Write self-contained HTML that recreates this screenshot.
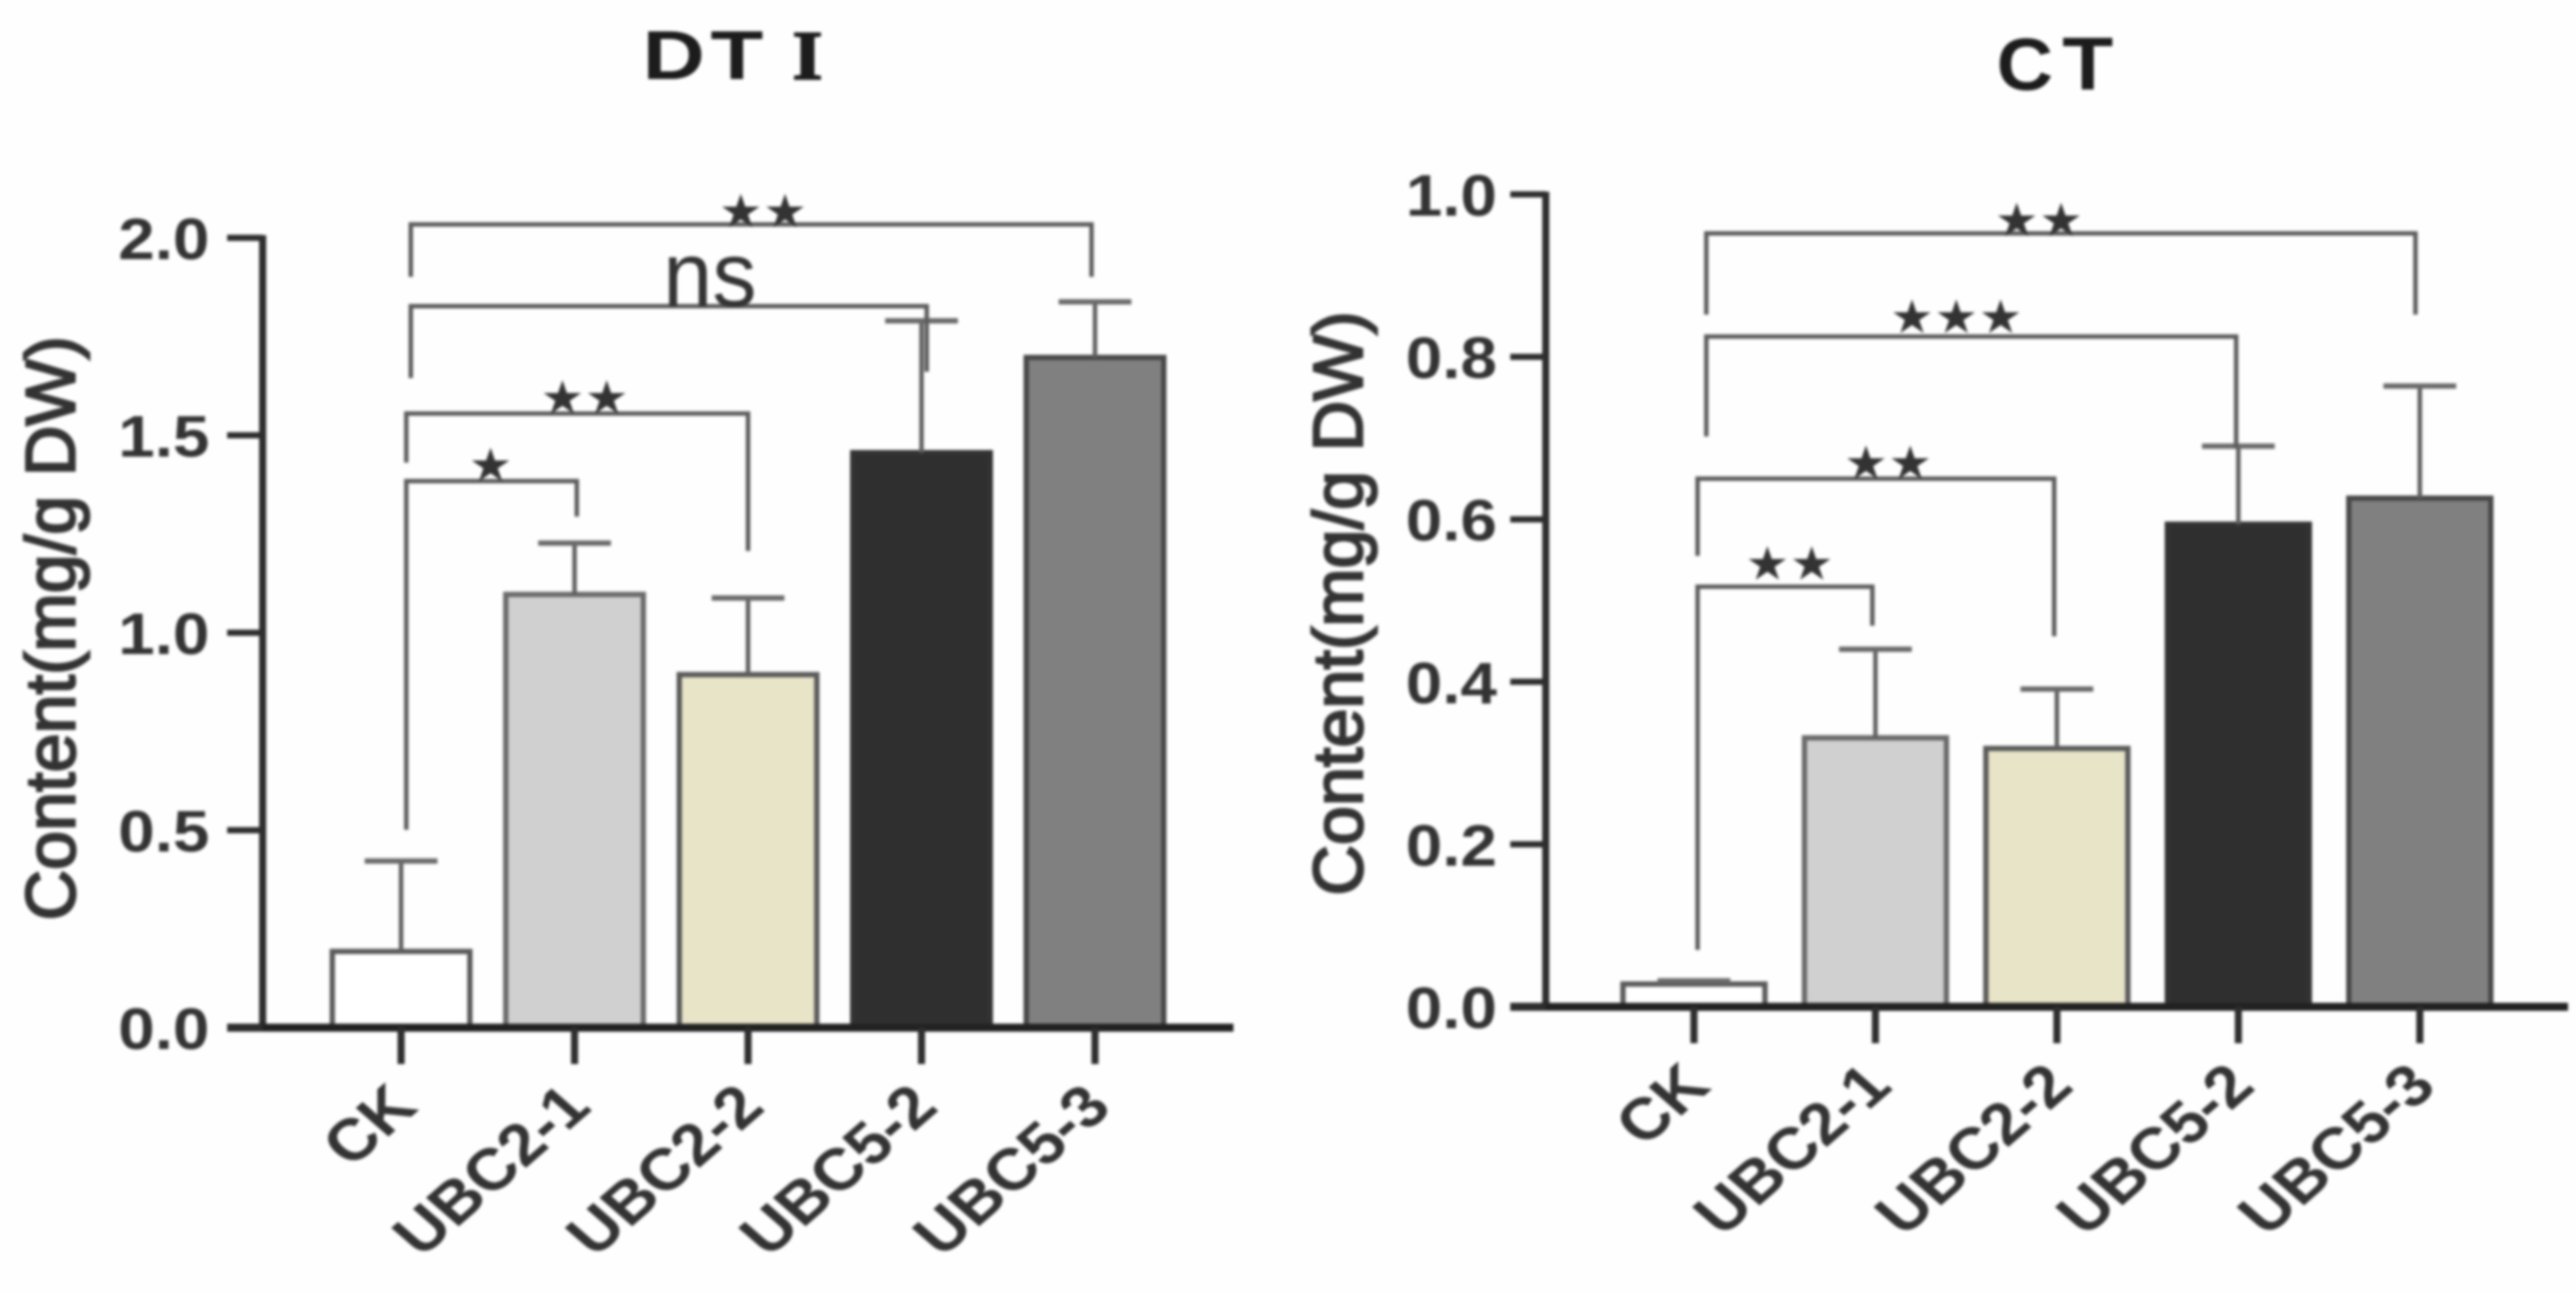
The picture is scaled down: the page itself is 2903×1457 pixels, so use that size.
<!DOCTYPE html>
<html lang="en">
<head>
<meta charset="utf-8">
<title>DT I and CT content bar charts</title>
<style>
  html,body{margin:0;padding:0;background:#fefefe;width:2903px;height:1457px;overflow:hidden}
  svg{display:block;filter:blur(1.5px)}
  text{font-family:"Liberation Sans",sans-serif;fill:#333}
</style>
</head>
<body>
<svg id="figure" xmlns="http://www.w3.org/2000/svg" width="2903" height="1457" viewBox="0 0 2903 1457">
  <rect x="0" y="0" width="2903" height="1457" fill="#fefefe"/>
  <text transform="translate(724,89) scale(1.25,1)" font-size="78" font-weight="700" style="fill:#1c1c1c;letter-spacing:5px">DT</text>
  <text transform="translate(893,89) scale(1.12,1)" font-size="78" font-weight="700" stroke="#1c1c1c" stroke-width="2" style="fill:#1c1c1c;font-family:'Liberation Serif',serif">I</text>
  <text transform="translate(2250,101) scale(1.05,1)" font-size="84" font-weight="700" style="fill:#1c1c1c">C</text>
  <text transform="translate(2324,101) scale(1.12,1)" font-size="84" font-weight="700" style="fill:#1c1c1c">T</text>
  <g id="chart-dti"></g>
  <g id="chart-ct"></g>
</svg>
<script>
const categories = ['CK', 'UBC2-1', 'UBC2-2', 'UBC5-2', 'UBC5-3'];
const barFills = ['#ffffff', '#d0d0d0', '#e8e4c8', '#2f2f2f', '#808080'];
const barStrokes = ['#5a5a5a', '#6a6a6a', '#5a5a5a', '#333333', '#484848'];

const dtiValues = [0.193, 1.097, 0.894, 1.456, 1.697];
const dtiErrorTops = [0.422, 1.227, 1.088, 1.790, 1.838];
const dtiTickValues = [0, 0.5, 1, 1.5, 2];
const dtiTickLabels = ['0.0', '0.5', '1.0', '1.5', '2.0'];
const dtiBracketFrom = [0.056, 0.056, 0.03, 0.03];
const dtiBracketTo = [3.98, 3.03, 2.0, 1.013];
const dtiBracketLevel = [2.034, 1.827, 1.555, 1.384];
const dtiBracketLeftEnd = [1.901, 1.645, 1.431, 0.501];
const dtiBracketRightEnd = [1.901, 1.661, 1.207, 1.294];
const dtiBracketLabels = ['★★', 'ns', '★★', '★'];
const dtiBracketLabelPos = [2.087, 1.78, 1.059, 0.517];

const ctValues = [0.028, 0.331, 0.318, 0.594, 0.626];
const ctErrorTops = [0.032, 0.440, 0.391, 0.690, 0.764];
const ctTickValues = [0, 0.2, 0.4, 0.6, 0.8, 1];
const ctTickLabels = ['0.0', '0.2', '0.4', '0.6', '0.8', '1.0'];
const ctBracketFrom = [0.068, 0.068, 0.02, 0.02];
const ctBracketTo = [3.976, 2.988, 1.985, 0.983];
const ctBracketLevel = [0.952, 0.825, 0.650, 0.517];
const ctBracketLeftEnd = [0.852, 0.702, 0.555, 0.070];
const ctBracketRightEnd = [0.852, 0.687, 0.456, 0.469];
const ctBracketLabels = ['★★', '★★★', '★★', '★★'];
const ctBracketLabelPos = [1.902, 1.447, 1.071, 0.528];

const NS = 'http://www.w3.org/2000/svg';

function make(parent, tag, props) {
  const el = document.createElementNS(NS, tag);
  for (const k in props) el.setAttribute(k, props[k]);
  parent.appendChild(el);
  return el;
}

function drawChart(g, prefix, layout, values, errorTops, tickValues, tickLabels, bFrom, bTo, bLevel, bLeftEnd, bRightEnd, bLabels, bLabelPos) {
  const yScale = v => layout.y0 - v * layout.unit;
  const xScale = i => layout.x0 + i * layout.step;

  // bars
  values.forEach((v, i) => {
    const bar = make(g, 'rect', {
      x: xScale(i) - layout.barW / 2, y: yScale(v),
      width: layout.barW, height: layout.y0 - yScale(v),
      fill: barFills[i], stroke: barStrokes[i], 'stroke-width': 6
    });
    
    
  });

  // error bars
  errorTops.forEach((e, i) => {
    const stem = make(g, 'line', {
      x1: xScale(i), x2: xScale(i), y1: yScale(values[i]), y2: yScale(e),
      stroke: '#5f5f5f', 'stroke-width': 5
    });
    
    
    const cap = make(g, 'line', {
      x1: xScale(i) - 41, x2: xScale(i) + 41, y1: yScale(e), y2: yScale(e),
      stroke: '#6a6a6a', 'stroke-width': 6
    });
    
    
  });

  // axes
  const yAxis = make(g, 'line', {
    x1: layout.axisX, x2: layout.axisX, y1: yScale(tickValues[tickValues.length - 1]) - 3, y2: layout.y0,
    stroke: '#2e2e2e', 'stroke-width': 8
  });
  
  
  const xAxis = make(g, 'line', {
    x1: layout.axisX - 40, x2: layout.axisEnd, y1: layout.y0, y2: layout.y0,
    stroke: '#222222', 'stroke-width': 9
  });
  
  

  // y ticks
  tickValues.forEach((t, i) => {
    const tick = make(g, 'line', {
      x1: layout.axisX - 40, x2: layout.axisX, y1: yScale(t), y2: yScale(t),
      stroke: '#2e2e2e', 'stroke-width': 7
    });
    
    
    const label = make(g, 'text', {
      transform: 'translate(' + (layout.axisX - layout.labelGap) + ',' + (yScale(t) + 24) + ') scale(1.12,1)',
      'text-anchor': 'end', 'font-size': 66, 'font-weight': 700
    });
    label.textContent = tickLabels[i];
    
    
  });

  // x ticks and labels
  categories.forEach((c, i) => {
    const tick = make(g, 'line', {
      x1: xScale(i), x2: xScale(i), y1: layout.y0, y2: layout.y0 + 41,
      stroke: '#2e2e2e', 'stroke-width': 8
    });
    
    
    const label = make(g, 'text', {
      transform: 'translate(' + (xScale(i) + 21) + ',' + (layout.y0 + 92) + ') scale(1.15,1) rotate(-45)',
      'text-anchor': 'end', 'font-size': 66, 'font-weight': 700
    });
    label.textContent = c;
    
    
  });

  // y axis title
  const yTitle = make(g, 'text', {
    transform: 'translate(' + layout.titleX + ',' + layout.titleY + ') rotate(-90)',
    'text-anchor': 'middle', 'font-size': 79, stroke: '#333', 'stroke-width': 2.6
  });
  yTitle.textContent = 'Content(mg/g DW)';
  
  

  // significance brackets
  bLevel.forEach((lvl, i) => {
    const xa = xScale(bFrom[i]);
    const xb = xScale(bTo[i]);
    const br = make(g, 'path', {
      d: 'M' + xa + ' ' + yScale(bLeftEnd[i]) + 'V' + yScale(lvl) + 'H' + xb + 'V' + yScale(bRightEnd[i]),
      fill: 'none', stroke: '#5c5c5c', 'stroke-width': 5
    });
    
    
    const isNs = bLabels[i] === 'ns';
    const lx = xScale(bLabelPos[i]);
    const ly = yScale(lvl) + (isNs ? 0 : layout.starDy[i]);
    const label = make(g, 'text', {
      transform: 'translate(' + lx + ',' + ly + ') scale(' + (isNs ? 0.96 : 1.06) + ',1)',
      'text-anchor': 'middle', 'font-size': isNs ? 104 : 52
    });
    label.style.letterSpacing = isNs ? '0' : '0.5px';
    label.style.fontFamily = isNs ? '"Liberation Sans",sans-serif' : '"DejaVu Sans",sans-serif';
    label.textContent = bLabels[i];
    
    
  });
}

drawChart(document.getElementById('chart-dti'), 'dti',
  { y0: 1158, unit: 445, x0: 452, step: 195.5, barW: 155, axisX: 296, axisEnd: 1390, labelGap: 60, titleX: 84, titleY: 708, starDy: [3, 0, 0, 0] },
  dtiValues, dtiErrorTops, dtiTickValues, dtiTickLabels,
  dtiBracketFrom, dtiBracketTo, dtiBracketLevel, dtiBracketLeftEnd, dtiBracketRightEnd, dtiBracketLabels, dtiBracketLabelPos);

drawChart(document.getElementById('chart-ct'), 'ct',
  { y0: 1134.5, unit: 915.5, x0: 1909, step: 204.5, barW: 160, axisX: 1742, axisEnd: 2894, labelGap: 55, titleX: 1535, titleY: 680, starDy: [3, -4, 0, -8] },
  ctValues, ctErrorTops, ctTickValues, ctTickLabels,
  ctBracketFrom, ctBracketTo, ctBracketLevel, ctBracketLeftEnd, ctBracketRightEnd, ctBracketLabels, ctBracketLabelPos);
</script>
</body>
</html>
